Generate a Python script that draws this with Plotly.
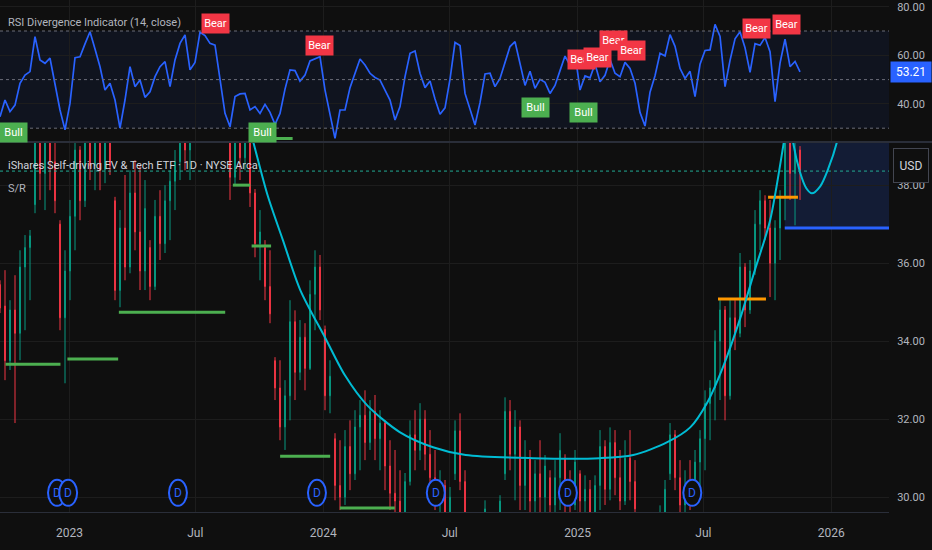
import pandas as pd
import plotly.graph_objects as go

# ---------------- data ----------------
week_dates = pd.date_range("2022-09-23", "2025-11-17", periods=161)

rsi_values = [
    34.7, 41.6, 36.8, 39.5, 48.5, 51.9, 53.3, 67.7, 58.1, 56.7,
    58.8, 47.8, 37.5, 29.3, 40.2, 59.0, 59.4, 64.7, 69.7, 62.6,
    55.3, 45.7, 48.5, 41.6, 30.0, 41.6, 55.3, 47.1, 49.8, 42.7,
    45.0, 51.2, 55.3, 57.4, 47.1, 58.1, 64.9, 68.4, 54.0, 57.1,
    69.5, 68.1, 64.9, 64.2, 49.8, 36.1, 30.6, 43.0, 44.1, 44.3,
    37.5, 38.9, 36.1, 39.8, 36.5, 31.6, 36.1, 46.1, 54.0, 53.7,
    49.4, 51.9, 57.7, 58.5, 59.4, 45.7, 36.1, 25.8, 37.5, 37.5,
    46.7, 53.0, 58.5, 56.0, 52.6, 50.9, 49.8, 45.7, 41.6, 33.4,
    38.9, 51.2, 60.8, 61.8, 52.6, 46.7, 49.4, 42.0, 35.7, 38.4,
    50.2, 65.3, 64.0, 44.3,
    37.5, 31.3, 40.5, 52.3, 52.6, 47.1, 50.5, 57.4, 63.6, 65.6,
    57.2, 47.6, 53.4, 46.4, 50.1, 48.9, 44.3, 47.6, 53.7, 59.7,
    55.9, 60.8, 45.7, 51.5, 50.7, 56.4, 49.1, 51.8, 58.3, 52.6,
    51.2, 57.1, 54.6, 48.5, 36.5, 30.9, 44.8, 51.6, 60.8, 59.7,
    68.5, 63.7, 54.6, 50.5, 53.4, 43.0, 56.3, 62.0, 62.2, 72.7,
    67.8, 47.1, 57.9, 66.8, 69.7, 63.1, 53.0, 64.8, 64.1, 67.3,
    61.5, 40.9, 56.8, 66.6, 55.3, 57.5, 53.21,
]

cdl_open = [
    35.45, 34.9, 33.5, 34.8, 34.2, 35.9, 36.4, 37.5, 39.6, 38.3,
    39.4, 38.6, 37.0, 34.6, 35.8, 37.2, 38.9, 37.6, 39.5, 38.5,
    39.3, 38.4, 39.2, 37.6, 35.3, 36.9, 35.9, 37.8, 36.8, 35.8,
    36.4, 35.4, 37.2, 36.5, 37.6, 38.1, 38.6, 39.4, 38.9, 39.8,
    40.2, 40.5, 40.1, 40.4, 39.9, 40.2, 39.6, 38.2, 39.3, 38.7,
    39.6, 37.8, 36.5, 36.4, 35.4, 33.5, 32.8, 31.8, 32.6, 34.5,
    33.2, 34.1, 33.3, 35.2, 35.9, 34.3, 32.6, 31.5, 30.3, 30.0,
    31.3, 30.6, 31.8, 32.1, 31.4, 32.2, 31.5, 31.9, 30.8, 30.1,
    29.9, 29.6, 30.4, 31.6, 31.2, 32.0, 31.1, 30.5, 29.9, 30.3,
    29.6, 30.6, 31.7, 30.4, 29.4, 29.0, 29.2, 29.1, 29.4, 29.1,
    29.3, 30.6, 32.2, 31.1, 31.8, 30.3, 31.0, 29.9, 30.6, 30.0,
    30.5, 29.8, 30.5, 31.0, 30.0, 29.8, 30.6, 29.9, 30.2, 29.6,
    30.3, 31.3, 30.2, 31.4, 30.5, 29.9, 31.0, 30.4, 29.4, 28.9,
    28.7, 29.1, 29.3, 29.6, 30.6, 31.6, 30.5, 29.8, 30.3, 29.9,
    30.9, 31.5, 32.4, 32.8, 34.0, 34.8, 32.6, 34.6, 34.2, 35.9,
    34.8, 35.8, 37.0, 37.6, 36.9, 36.0, 36.9, 37.7, 39.2, 38.3,
    38.9,
]
cdl_high = [
    35.56, 35.82, 35.05, 35.69, 36.33, 36.72, 36.85, 39.9, 40.2, 40.0,
    40.3, 39.8, 37.1, 36.33, 37.62, 39.4, 39.0, 39.9, 40.2, 40.0,
    40.1, 40.0, 39.9, 37.7, 37.36, 38.26, 38.38, 38.64, 38.51, 38.13,
    36.59, 37.62, 37.87, 38.0, 38.38, 38.9, 39.9, 40.2, 40.3, 40.6,
    40.8, 41.0, 40.7, 40.8, 40.5, 40.6, 40.0, 39.8, 40.0, 40.1,
    39.9, 37.9, 37.36, 36.59, 36.33, 33.59, 33.51, 33.0, 35.05, 34.79,
    34.54, 34.46, 35.56, 36.33, 36.21, 34.4, 33.51, 31.64, 31.46, 31.72,
    31.97, 32.23, 32.49, 32.74, 32.49, 32.62, 32.23, 31.97, 31.46, 31.21,
    30.69, 30.62, 31.97, 32.23, 32.41, 32.23, 31.72, 31.21, 30.69, 30.44,
    30.26, 31.97, 32.15, 30.69, 29.5, 29.4, 29.5, 29.92, 29.5, 29.55,
    30.05, 32.56, 32.49, 32.23, 31.97, 31.46, 31.21, 30.95, 31.46, 31.08,
    30.69, 30.95, 31.64, 31.1, 30.69, 31.21, 30.69, 30.56, 30.44, 30.56,
    31.72, 31.46, 31.79, 31.72, 31.21, 31.46, 31.72, 30.95, 29.5, 29.3,
    29.4, 29.5, 29.79, 30.44, 31.9, 31.72, 30.95, 30.69, 30.95, 31.21,
    31.72, 32.74, 33.0, 34.28, 35.05, 34.9, 35.05, 35.05, 36.26, 36.0,
    36.08, 37.36, 37.87, 37.74, 37.62, 37.1, 37.87, 39.6, 39.5, 39.4,
    39.0,
]
cdl_low = [
    34.72, 33.0, 33.26, 31.9, 33.51, 34.28, 35.05, 37.28, 37.62, 37.36,
    37.87, 37.28, 34.28, 32.92, 35.05, 36.33, 37.1, 37.44, 38.13, 37.87,
    37.87, 38.05, 38.26, 35.05, 34.87, 35.56, 35.74, 36.33, 35.31, 35.31,
    35.05, 35.31, 36.08, 36.26, 36.59, 37.36, 38.13, 38.38, 38.13, 39.4,
    39.6, 39.8, 39.5, 39.5, 39.3, 39.3, 37.62, 38.0, 38.13, 38.38,
    37.44, 36.15, 35.56, 35.05, 34.46, 32.49, 31.46, 31.21, 31.97, 32.49,
    33.0, 32.74, 33.26, 34.28, 34.54, 32.23, 32.15, 29.92, 29.67, 29.8,
    30.18, 30.44, 30.69, 30.95, 31.21, 30.95, 30.69, 30.18, 29.67, 29.54,
    29.41, 29.54, 30.3, 30.69, 30.95, 30.69, 30.18, 29.67, 29.41, 29.28,
    29.41, 30.44, 30.18, 29.28, 28.8, 28.7, 28.8, 29.0, 28.9, 28.9,
    29.1, 30.44, 30.69, 29.92, 29.67, 29.67, 29.41, 29.54, 29.54, 29.54,
    29.41, 29.54, 29.67, 29.54, 29.41, 29.67, 29.54, 29.41, 29.41, 29.54,
    29.67, 29.8, 29.92, 30.05, 29.67, 29.8, 29.92, 29.54, 28.8, 28.5,
    28.6, 28.8, 29.0, 29.54, 30.44, 30.18, 29.54, 29.54, 29.67, 29.8,
    30.18, 30.69, 31.46, 31.97, 32.49, 31.97, 32.5, 33.77, 34.1, 34.36,
    34.7, 35.7, 36.33, 36.59, 35.13, 35.05, 36.08, 37.1, 37.62, 36.97,
    37.62,
]
cdl_close = [
    34.85, 33.5, 34.8, 34.2, 35.9, 36.4, 36.7, 39.6, 38.3, 39.4,
    38.6, 37.6, 34.6, 35.8, 37.2, 38.9, 37.6, 39.5, 38.5, 39.3,
    38.4, 39.2, 38.5, 35.3, 36.9, 35.9, 37.8, 36.8, 35.8, 37.4,
    35.4, 37.2, 36.5, 37.6, 38.1, 38.6, 39.4, 38.9, 39.8, 40.2,
    40.5, 40.1, 40.4, 39.9, 40.2, 39.6, 38.2, 39.3, 38.7, 39.6,
    37.8, 36.5, 36.8, 35.4, 34.7, 32.8, 31.8, 32.6, 34.5, 33.2,
    34.1, 33.3, 35.2, 35.9, 34.8, 32.6, 33.1, 30.3, 30.0, 31.3,
    30.6, 31.8, 32.1, 31.4, 32.2, 31.5, 31.9, 30.8, 30.1, 29.9,
    29.6, 30.4, 31.6, 31.2, 32.0, 31.1, 30.5, 29.9, 30.3, 29.6,
    30.0, 31.7, 30.4, 29.5, 29.0, 29.2, 28.9, 29.7, 29.1, 29.4,
    29.9, 32.2, 31.1, 31.8, 30.3, 31.0, 29.9, 30.6, 30.0, 30.8,
    29.8, 30.5, 31.2, 30.0, 29.8, 30.9, 29.9, 30.2, 29.6, 30.3,
    31.3, 30.2, 31.4, 30.5, 29.9, 31.0, 30.4, 29.7, 28.9, 28.7,
    29.1, 29.3, 29.6, 30.2, 31.6, 30.5, 29.8, 30.3, 29.9, 30.9,
    31.5, 32.4, 32.8, 34.0, 34.8, 32.6, 34.6, 34.2, 35.9, 34.8,
    35.8, 37.0, 37.6, 36.9, 36.0, 36.9, 37.7, 39.2, 38.3, 38.9,
    38.36,
]

# polynomial regression curve and its projection
reg_dates = ["2023-09-10", "2023-09-22", "2023-10-13", "2023-11-04", "2023-11-29",
             "2024-01-04", "2024-02-01", "2024-03-04", "2024-04-20", "2024-06-07",
             "2024-07-24", "2024-10-29", "2025-02-02", "2025-03-22", "2025-05-10",
             "2025-06-12", "2025-07-06", "2025-07-29", "2025-08-23", "2025-09-13",
             "2025-10-05", "2025-10-25", "2025-11-01"]
reg_values = [39.9, 39.13, 37.74, 36.59, 35.31, 34.08, 33.13, 32.36, 31.67, 31.28,
              31.08, 31.0, 31.0, 31.08, 31.41, 31.79, 32.41, 33.33, 34.59, 35.82,
              37.1, 39.13, 39.9]
proj_dates = ["2025-11-03", "2025-11-07", "2025-11-17", "2025-11-26", "2025-12-04",
              "2025-12-16", "2025-12-28", "2026-01-09", "2026-01-14"]
proj_values = [39.8, 39.1, 38.33, 37.92, 37.79, 37.97, 38.44, 39.1, 39.6]

# support / resistance segments
support_levels = [33.41, 33.54, 34.74, 38.0, 36.44, 31.05, 29.72]
support_start = ["2022-10-01", "2022-12-29", "2023-03-13", "2023-08-24",
                 "2023-09-20", "2023-10-31", "2024-01-25"]
support_end = ["2022-12-19", "2023-03-12", "2023-08-13", "2023-09-18",
               "2023-10-18", "2024-01-11", "2024-04-13"]
resist_levels = [35.08, 37.69]
resist_start = ["2025-07-22", "2025-10-02"]
resist_end = ["2025-09-29", "2025-11-14"]

target_level = 36.9
target_start = "2025-10-26"
target_end = "2026-03-25"

last_price = 38.36
last_rsi = 53.21

rsi_link_dates = ["2023-09-18", "2023-11-18"]
rsi_link_values = [25.8, 25.8]

div_dates = ["2022-12-14", "2022-12-30", "2023-06-06", "2023-12-23",
             "2024-06-11", "2024-12-18", "2025-06-15"]

sig_dates = ["2022-10-12", "2023-07-30", "2023-10-05", "2023-12-27", "2024-11-02",
             "2025-01-06", "2025-01-10", "2025-01-29", "2025-02-22", "2025-03-19",
             "2025-09-16", "2025-10-28"]
sig_rsi = [28.4, 72.9, 28.4, 64.2, 38.7, 58.1, 36.3, 58.9, 66.3, 61.8, 71.2, 72.5]
sig_text = ["Bull", "Bear", "Bull", "Bear", "Bull", "Bear", "Bull", "Bear",
            "Bear", "Bear", "Bear", "Bear"]

x_tickvals = ["2023-01-01", "2023-07-01", "2024-01-01", "2024-07-01",
              "2025-01-01", "2025-07-01", "2026-01-01"]
x_ticktext = ["2023", "Jul", "2024", "Jul", "2025", "Jul", "2026"]
price_ticks = [30, 32, 34, 36, 38]
rsi_ticks = [40, 60, 80]

# ---------------- style ----------------
FONT = "Roboto, Liberation Sans, sans-serif"
BG = "#0f0f0f"
GRID = "#1d1d1d"
TXT = "#b2b5be"
UP = "#089981"
DOWN = "#f23645"
X_RANGE = ["2022-09-23", "2026-03-25"]
PRICE_RANGE = [29.62, 39.08]
RSI_RANGE = [24.73, 82.76]

fig = go.Figure()

fig.add_trace(go.Candlestick(
    x=week_dates, open=cdl_open, high=cdl_high, low=cdl_low, close=cdl_close,
    increasing=dict(line=dict(color=UP, width=1), fillcolor=UP),
    decreasing=dict(line=dict(color=DOWN, width=1), fillcolor=DOWN),
    whiskerwidth=0, xaxis="x", yaxis="y", hoverinfo="skip"))

for lvl, s, e in zip(support_levels, support_start, support_end):
    fig.add_trace(go.Scatter(x=[s, e], y=[lvl, lvl], mode="lines",
                             line=dict(color="#4caf50", width=3),
                             xaxis="x", yaxis="y", hoverinfo="skip"))
for lvl, s, e in zip(resist_levels, resist_start, resist_end):
    fig.add_trace(go.Scatter(x=[s, e], y=[lvl, lvl], mode="lines",
                             line=dict(color="#ff9800", width=3),
                             xaxis="x", yaxis="y", hoverinfo="skip"))

fig.add_trace(go.Scatter(x=reg_dates, y=reg_values, mode="lines",
                         line=dict(color="#00bcd4", width=2, shape="spline", smoothing=0.8),
                         xaxis="x", yaxis="y", hoverinfo="skip"))
fig.add_trace(go.Scatter(x=proj_dates, y=proj_values, mode="lines",
                         line=dict(color="#00bcd4", width=2, shape="spline", smoothing=0.8),
                         xaxis="x", yaxis="y", hoverinfo="skip"))
fig.add_trace(go.Scatter(x=[target_start, target_end], y=[target_level, target_level],
                         mode="lines", line=dict(color="#2962ff", width=3),
                         xaxis="x", yaxis="y", hoverinfo="skip"))

fig.add_trace(go.Scatter(x=week_dates, y=rsi_values, mode="lines",
                         line=dict(color="#2962ff", width=1.7),
                         xaxis="x2", yaxis="y2", hoverinfo="skip"))
fig.add_trace(go.Scatter(x=rsi_link_dates, y=rsi_link_values, mode="lines",
                         line=dict(color="#4caf50", width=3),
                         xaxis="x2", yaxis="y2", hoverinfo="skip"))

shapes = [
    dict(type="rect", xref="x2 domain", x0=0, x1=1, yref="y2", y0=30, y1=70,
         fillcolor="rgba(41,98,255,0.07)", line=dict(width=0), layer="below"),
    dict(type="rect", xref="x", x0=target_start, x1=target_end, yref="y",
         y0=target_level, y1=PRICE_RANGE[1], fillcolor="rgba(41,98,255,0.16)",
         line=dict(width=0), layer="below"),
    dict(type="line", xref="x domain", x0=0, x1=1, yref="y", y0=last_price, y1=last_price,
         line=dict(color="#22ab94", width=1, dash="dot")),
    dict(type="line", xref="paper", x0=0, x1=1.05, yref="paper", y0=0.7227, y1=0.7227,
         line=dict(color="#2a2e39", width=2)),
]
for lvl in (30, 50, 70):
    shapes.append(dict(type="line", xref="x2 domain", x0=0, x1=1, yref="y2", y0=lvl, y1=lvl,
                       line=dict(color="#6a6d78", width=1, dash="dot")))
for d in div_dates:
    shapes.append(dict(type="circle", xref="x", xsizemode="pixel", xanchor=d, x0=-9, x1=9,
                       yref="y domain", ysizemode="pixel", yanchor=0.052, y0=-13, y1=13,
                       fillcolor=BG, line=dict(color="#2962ff", width=2)))

annotations = [
    dict(text="RSI Divergence Indicator (14, close)", xref="paper", yref="paper",
         x=0.007, y=1 - 22 / 512, xanchor="left", yanchor="middle", showarrow=False,
         font=dict(family=FONT, size=11, color=TXT)),
    dict(text="iShares Self-driving EV & Tech ETF · 1D · NYSE Arca", xref="paper", yref="paper",
         x=0.007, y=1 - 165 / 512, xanchor="left", yanchor="middle", showarrow=False,
         font=dict(family=FONT, size=11, color="#d1d4dc")),
    dict(text="S/R", xref="paper", yref="paper",
         x=0.007, y=1 - 188 / 512, xanchor="left", yanchor="middle", showarrow=False,
         font=dict(family=FONT, size=11, color=TXT)),
    dict(text=f"{last_rsi:.2f}", xref="paper", yref="y2", x=1.0015, y=last_rsi,
         xanchor="left", yanchor="middle", showarrow=False, bgcolor="#2962ff",
         width=36, height=16, borderpad=2, font=dict(family=FONT, size=12, color="#ffffff")),
    dict(text="USD", xref="paper", yref="paper", x=1.0045, y=1 - 165 / 512,
         xanchor="left", yanchor="middle", showarrow=False, bgcolor=BG,
         bordercolor="#434651", borderwidth=1, width=32, height=31,
         font=dict(family=FONT, size=12, color="#d1d4dc")),
]
for d in div_dates:
    annotations.append(dict(text="D", xref="x", yref="y domain", x=d, y=0.052,
                            xanchor="center", yanchor="middle", showarrow=False,
                            font=dict(family=FONT, size=12, color="#2962ff")))
for d, v, t in zip(sig_dates, sig_rsi, sig_text):
    annotations.append(dict(text=t, xref="x2", yref="y2", x=d, y=v, showarrow=False,
                            bgcolor="#f23645" if t == "Bear" else "#4caf50",
                            width=23, height=15, borderpad=2,
                            font=dict(family=FONT, size=11, color="#ffffff")))

xcommon = dict(type="date", range=X_RANGE, showgrid=True, gridcolor=GRID, gridwidth=1,
               zeroline=False, tickvals=x_tickvals, ticktext=x_ticktext,
               tickfont=dict(family=FONT, size=12, color=TXT))
ycommon = dict(side="right", showgrid=True, gridcolor=GRID, zeroline=False,
               ticks="outside", ticklen=5, tickcolor="rgba(0,0,0,0)",
               ticklabeloverflow="allow",
               tickfont=dict(family=FONT, size=11, color=TXT))

fig.update_layout(
    width=932, height=550,
    margin=dict(l=0, r=43, t=0, b=38),
    paper_bgcolor=BG, plot_bgcolor=BG,
    showlegend=False, boxgap=0.75,
    xaxis=dict(**xcommon, domain=[0, 1], anchor="y", rangeslider=dict(visible=False),
               ticks="outside", ticklen=10, tickcolor="rgba(0,0,0,0)",
               showline=True, linecolor="#2a2e39"),
    xaxis2=dict(**xcommon, domain=[0, 1], anchor="y2", matches="x", showticklabels=False),
    yaxis=dict(**ycommon, domain=[0, 0.7207], range=PRICE_RANGE, tickvals=price_ticks,
               ticktext=[f"{v:.2f}" for v in price_ticks]),
    yaxis2=dict(**ycommon, domain=[0.7246, 1], range=RSI_RANGE, tickvals=rsi_ticks,
                ticktext=[f"{v:.2f}" for v in rsi_ticks]),
    shapes=shapes, annotations=annotations,
)

fig.write_html("out.html", config={"displayModeBar": False},
               post_script="document.body.style.margin='0px';document.body.style.background='#0f0f0f';")
